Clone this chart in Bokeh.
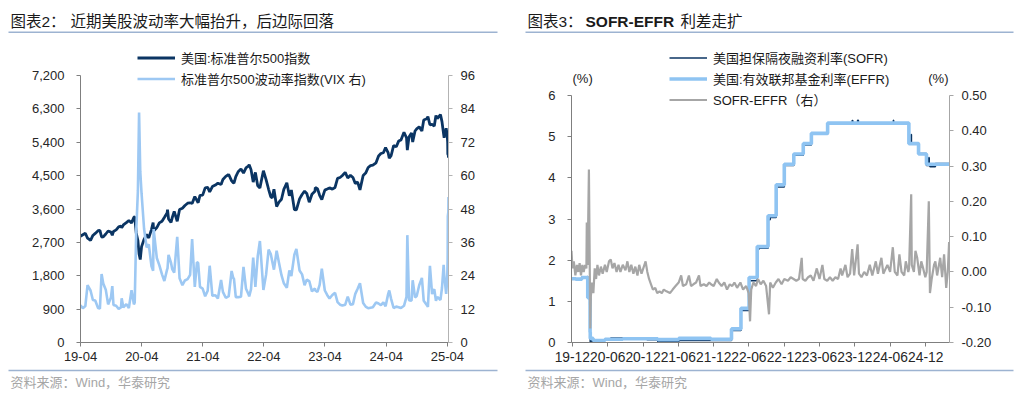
import pandas as pd
from bokeh.plotting import figure
from bokeh.models import (Range1d, LinearAxis, FixedTicker, NumeralTickFormatter,
                          DatetimeTickFormatter, Label, BoxAnnotation, Legend, LegendItem,
                          ColumnDataSource)
from bokeh.layouts import row, column
from bokeh.embed import file_html
from bokeh.resources import INLINE

FONT = "'Liberation Sans', 'Noto Sans CJK SC', sans-serif"

# ---------------- Chart 2 data: S&P 500 and VIX ----------------
spx_dates = [
    "2019-04-01", "2019-04-15", "2019-04-30", "2019-05-13", "2019-05-31", "2019-06-14", "2019-06-28", "2019-07-15",
    "2019-07-26", "2019-08-05", "2019-08-15", "2019-08-30", "2019-09-13", "2019-09-30", "2019-10-08", "2019-10-15",
    "2019-10-31", "2019-11-15", "2019-11-29", "2019-12-03", "2019-12-13", "2019-12-31",
    "2020-01-15", "2020-01-31", "2020-02-14", "2020-02-19", "2020-02-28", "2020-03-09", "2020-03-16", "2020-03-23",
    "2020-03-31", "2020-04-15", "2020-04-30", "2020-05-13", "2020-05-29", "2020-06-08", "2020-06-11", "2020-06-30",
    "2020-07-15", "2020-07-31", "2020-08-14", "2020-08-31", "2020-09-02", "2020-09-08", "2020-09-23", "2020-09-30",
    "2020-10-12", "2020-10-30", "2020-11-13", "2020-11-30", "2020-12-15", "2020-12-31",
    "2021-01-15", "2021-01-27", "2021-02-12", "2021-02-25", "2021-03-04", "2021-03-15", "2021-03-31", "2021-04-15",
    "2021-04-30", "2021-05-12", "2021-05-28", "2021-06-15", "2021-06-30", "2021-07-19", "2021-07-30", "2021-08-16",
    "2021-08-31", "2021-09-02", "2021-09-20", "2021-09-30", "2021-10-04", "2021-10-15", "2021-10-29", "2021-11-15",
    "2021-11-30", "2021-12-15", "2021-12-31",
    "2022-01-03", "2022-01-14", "2022-01-27", "2022-02-09", "2022-02-23", "2022-03-08", "2022-03-29", "2022-04-14",
    "2022-04-29", "2022-05-12", "2022-05-20", "2022-05-31", "2022-06-16", "2022-06-30", "2022-07-15", "2022-07-29",
    "2022-08-16", "2022-08-31", "2022-09-12", "2022-09-30", "2022-10-12", "2022-10-31", "2022-11-15", "2022-11-30",
    "2022-12-13", "2022-12-28",
    "2023-01-13", "2023-01-31", "2023-02-02", "2023-02-15", "2023-02-28", "2023-03-13", "2023-03-31", "2023-04-14",
    "2023-04-28", "2023-05-15", "2023-05-31", "2023-06-15", "2023-06-30", "2023-07-14", "2023-07-31", "2023-08-15",
    "2023-08-31", "2023-09-15", "2023-09-29", "2023-10-13", "2023-10-27", "2023-11-15", "2023-11-30", "2023-12-15",
    "2023-12-29",
    "2024-01-12", "2024-01-31", "2024-02-15", "2024-02-29", "2024-03-15", "2024-03-28", "2024-04-12", "2024-04-19",
    "2024-04-30", "2024-05-15", "2024-05-31", "2024-06-14", "2024-06-28", "2024-07-16", "2024-07-31", "2024-08-05",
    "2024-08-15", "2024-08-30", "2024-09-06", "2024-09-20", "2024-09-30", "2024-10-15", "2024-10-31", "2024-11-11",
    "2024-11-29", "2024-12-06", "2024-12-18", "2024-12-31",
    "2025-01-13", "2025-01-23", "2025-01-31", "2025-02-19", "2025-02-28", "2025-03-10", "2025-03-13", "2025-03-25",
    "2025-03-31", "2025-04-03", "2025-04-04", "2025-04-07", "2025-04-08",
]
spx_values = [
    2867, 2905, 2945, 2812, 2752, 2887, 2942, 3014, 3025, 2845, 2848, 2926, 3007, 2977, 2893, 2995, 3037, 3120, 3141, 3093, 3169, 3231,
    3289, 3226, 3380, 3386, 2954, 2747, 2386, 2237, 2585, 2783, 2912, 2820, 3044, 3232, 3002, 3100, 3227, 3271, 3373, 3500, 3580, 3332,
    3237, 3363, 3535, 3270, 3585, 3622, 3695, 3756,
    3768, 3751, 3934, 3829, 3768, 3968, 3973, 4170, 4181, 4063, 4204, 4246, 4297, 4258, 4395, 4479, 4523, 4537, 4358, 4308, 4300, 4471,
    4605, 4682, 4567, 4709, 4766,
    4796, 4662, 4326, 4587, 4225, 4170, 4631, 4392, 4132, 3930, 3901, 4132, 3667, 3785, 3863, 4130, 4305, 3955, 4110, 3586, 3577, 3872,
    3991, 4080, 4019, 3783,
    3999, 4077, 4179, 4148, 3970, 3855, 4109, 4138, 4169, 4136, 4180, 4426, 4450, 4505, 4589, 4437, 4508, 4450, 4288, 4327, 4117, 4502,
    4568, 4719, 4770,
    4784, 4846, 5030, 5096, 5117, 5254, 5123, 4967, 5036, 5308, 5278, 5431, 5460, 5667, 5522, 5186, 5543, 5648, 5408, 5703, 5762, 5815,
    5705, 6001, 6032, 6090, 5872, 5882,
    5836, 6119, 6041, 6144, 5955, 5615, 5522, 5777, 5612, 5396, 5074, 5062, 4983,
]
vix_values = [
    13.4, 12.3, 13.1, 20.6, 18.7, 15.3, 15.1, 12.4, 12.2, 24.6, 21.2, 19.0, 13.7, 16.2, 20.3, 13.5, 13.2, 12.1, 12.6, 15.9, 12.6, 13.8,
    12.4, 18.8, 13.7, 14.4, 40.1, 54.5, 82.7, 61.6, 53.5, 40.8, 34.2, 35.3, 27.5, 25.8, 40.8, 30.4, 27.8, 24.5, 22.1, 26.4, 26.6, 31.5,
    28.6, 26.4, 25.1, 38.0, 23.1, 20.6, 22.3, 22.8,
    24.3, 37.2, 20.0, 28.9, 28.6, 20.0, 19.4, 16.6, 18.6, 27.6, 16.8, 17.0, 15.8, 22.5, 18.2, 16.1, 16.5, 16.4, 25.7, 23.1, 23.0, 16.3,
    16.3, 16.5, 27.2, 19.3, 17.2,
    16.6, 19.2, 30.5, 20.0, 31.0, 36.5, 18.9, 24.4, 33.4, 31.8, 29.4, 26.2, 33.0, 28.7, 24.2, 21.3, 19.7, 25.9, 23.9, 31.6, 33.6, 25.9,
    24.5, 20.6, 22.6, 22.1,
    18.4, 19.4, 18.7, 18.2, 20.7, 26.5, 18.7, 17.1, 15.8, 17.1, 17.9, 14.5, 13.6, 13.3, 13.6, 16.5, 13.6, 13.8, 17.5, 19.3, 21.3, 14.2,
    12.9, 12.3, 12.5,
    12.7, 14.4, 14.0, 13.4, 14.4, 13.0, 17.3, 18.7, 15.7, 12.4, 12.9, 12.7, 12.4, 13.2, 16.4, 38.6, 15.2, 15.0, 22.4, 16.2, 16.7, 20.6,
    23.2, 15.0, 13.5, 12.8, 27.6, 17.4,
    19.2, 15.0, 16.4, 15.3, 19.6, 27.9, 24.7, 17.5, 22.3, 30.0, 45.3, 47.0, 52.3,
]
left_x_ticks = ["2019-04-01", "2020-04-01", "2021-04-01", "2022-04-01", "2023-04-01", "2024-04-01", "2025-04-01"]
left_y_ticks = [0, 900, 1800, 2700, 3600, 4500, 5400, 6300, 7200]
vix_ticks = [0, 12, 24, 36, 48, 60, 72, 84, 96]

# ---------------- Chart 3 data: SOFR, EFFR, spread ----------------
effr_dates = ["2019-12-11", "2020-01-02", "2020-02-03", "2020-03-04", "2020-03-16", "2020-03-17", "2020-04-01",
              "2020-06-01", "2020-09-01", "2021-01-04", "2021-03-01", "2021-06-17", "2021-12-01", "2022-03-17",
              "2022-05-05", "2022-06-16", "2022-07-28", "2022-09-22", "2022-11-03", "2022-12-15", "2023-02-02",
              "2023-03-23", "2023-05-04", "2023-07-27", "2024-09-19", "2024-11-08", "2024-12-19", "2025-04-17"]
effr_values = [1.55, 1.54, 1.58, 1.09, 0.25, 0.10, 0.05,
               0.08, 0.09, 0.09, 0.07, 0.10, 0.08, 0.33,
               0.83, 1.58, 2.33, 3.08, 3.83, 4.33, 4.58,
               4.83, 5.08, 5.33, 4.83, 4.58, 4.33, 4.33]
sofr_dates = ["2019-12-11", "2020-01-02", "2020-02-03", "2020-03-02", "2020-03-04", "2020-03-12", "2020-03-16",
              "2020-03-17", "2020-03-20", "2020-04-01", "2020-05-01", "2020-06-01", "2020-07-01", "2020-09-01",
              "2021-01-04", "2021-03-01", "2021-06-17", "2021-12-01", "2022-03-17", "2022-05-05", "2022-06-16",
              "2022-07-28", "2022-08-10", "2022-09-22", "2022-10-03", "2022-11-03", "2022-12-15", "2023-02-02",
              "2023-03-23", "2023-05-04", "2023-07-27", "2023-12-01", "2023-12-04", "2023-12-29", "2024-01-02",
              "2024-07-01", "2024-07-02", "2024-09-19", "2024-10-01", "2024-10-02", "2024-11-08", "2024-12-19",
              "2024-12-31", "2025-01-02", "2025-01-06", "2025-02-03", "2025-04-17"]
sofr_values = [1.55, 1.53, 1.59, 1.60, 1.10, 1.05, 0.26,
               0.01, 0.04, 0.01, 0.05, 0.08, 0.11, 0.09,
               0.07, 0.02, 0.05, 0.05, 0.29, 0.78, 1.50,
               2.28, 2.29, 2.98, 3.04, 3.78, 4.30, 4.55,
               4.80, 5.06, 5.30, 5.39, 5.32, 5.40, 5.31,
               5.40, 5.33, 4.84, 5.05, 4.85, 4.59, 4.30,
               4.49, 4.30, 4.27, 4.35, 4.33]
spread_dates = [
    "2019-12-11", "2019-12-16", "2019-12-23", "2019-12-31", "2020-01-08", "2020-01-15", "2020-01-22", "2020-01-29",
    "2020-02-05", "2020-02-12", "2020-02-19", "2020-02-26", "2020-02-28", "2020-03-03", "2020-03-06", "2020-03-10",
    "2020-03-13", "2020-03-17", "2020-03-20", "2020-03-26", "2020-04-02", "2020-04-09", "2020-04-16", "2020-04-23",
    "2020-05-01", "2020-05-11", "2020-05-20", "2020-06-01", "2020-06-10", "2020-06-22", "2020-07-01", "2020-07-10",
    "2020-07-20", "2020-07-31", "2020-08-10", "2020-08-20", "2020-09-01", "2020-09-15", "2020-09-25", "2020-10-05",
    "2020-10-15", "2020-10-26", "2020-11-05", "2020-11-16", "2020-11-25", "2020-12-07", "2020-12-16", "2020-12-28",
    "2021-01-06", "2021-01-15", "2021-01-25", "2021-02-04", "2021-02-16", "2021-02-26", "2021-03-10", "2021-03-22",
    "2021-04-01", "2021-04-15", "2021-05-03", "2021-05-17", "2021-06-01", "2021-06-17", "2021-06-30", "2021-07-09",
    "2021-07-26", "2021-08-09", "2021-08-20", "2021-09-01", "2021-09-15", "2021-09-30", "2021-10-08", "2021-10-25",
    "2021-11-08", "2021-11-22", "2021-12-01", "2021-12-15", "2021-12-31", "2022-01-10", "2022-01-25", "2022-02-08",
    "2022-02-22", "2022-03-08", "2022-03-21", "2022-04-01", "2022-04-15", "2022-05-02", "2022-05-16", "2022-06-01",
    "2022-06-14", "2022-06-21", "2022-06-27", "2022-07-08", "2022-07-22", "2022-08-01", "2022-08-15", "2022-08-29",
    "2022-09-12", "2022-09-27", "2022-10-03", "2022-10-17", "2022-11-01", "2022-11-15", "2022-12-01", "2022-12-15",
    "2023-01-03", "2023-01-17", "2023-02-01", "2023-02-15", "2023-03-01", "2023-03-15", "2023-03-20", "2023-04-03",
    "2023-04-17", "2023-05-01", "2023-05-15", "2023-06-01", "2023-06-15", "2023-06-30", "2023-07-10", "2023-07-25",
    "2023-08-08", "2023-08-22", "2023-09-05", "2023-09-19", "2023-10-02", "2023-10-10", "2023-10-27", "2023-11-07",
    "2023-11-20", "2023-12-01", "2023-12-11", "2023-12-29", "2024-01-05", "2024-01-18", "2024-02-01", "2024-02-15",
    "2024-03-01", "2024-03-14", "2024-04-01", "2024-04-12", "2024-04-30", "2024-05-10", "2024-05-31", "2024-06-14",
    "2024-06-28", "2024-07-08", "2024-07-22", "2024-08-01", "2024-08-12", "2024-08-26", "2024-09-03", "2024-09-16",
    "2024-09-20", "2024-10-01", "2024-10-04", "2024-10-15", "2024-10-23", "2024-11-01", "2024-11-13", "2024-11-22",
    "2024-12-02", "2024-12-13", "2024-12-20", "2024-12-31", "2025-01-06", "2025-01-15", "2025-01-27", "2025-02-03",
    "2025-02-12", "2025-02-28", "2025-03-10", "2025-03-20", "2025-03-31", "2025-04-08", "2025-04-15",
]
spread_values = [
    0.06, 0.01, 0.03, -0.01, 0.02, 0.00, 0.025, -0.01,
    0.02, 0.00, 0.02, 0.01, 0.14, 0.02, 0.13, 0.29,
    0.10, -0.16, -0.07, -0.03, -0.06, 0.01, -0.02, 0.02,
    -0.01, 0.015, -0.005, 0.02, 0.00, 0.03, 0.035, 0.01,
    0.025, 0.00, 0.02, 0.00, 0.02, 0.005, 0.03, 0.00,
    0.02, -0.005, 0.015, -0.01, 0.02, -0.005, 0.01, 0.03,
    0.00, -0.02, -0.035, -0.05, -0.045, -0.06, -0.055, -0.06,
    -0.05, -0.055, -0.06, -0.05, -0.04, -0.03, -0.01, -0.04,
    -0.035, -0.01, -0.04, -0.035, -0.03, -0.01, -0.04, -0.035,
    -0.04, -0.03, -0.035, -0.04, -0.02, -0.03, -0.04, -0.03,
    -0.05, -0.035, -0.04, -0.03, -0.045, -0.03, -0.05, -0.04,
    -0.06, -0.14, -0.05, -0.03, -0.04, -0.02, -0.035, -0.025,
    -0.04, -0.12, -0.03, -0.045, -0.03, -0.02, -0.035, -0.02,
    -0.025, -0.015, -0.02, -0.025, -0.02, 0.04, -0.02, -0.025,
    -0.015, -0.01, -0.025, 0.01, -0.02, 0.02, -0.02, -0.025,
    -0.015, -0.025, -0.015, -0.02, 0.01, -0.01, 0.02, -0.015,
    -0.005, 0.065, -0.01, 0.078, -0.005, -0.015, 0.00, -0.01,
    0.02, -0.01, 0.03, -0.005, 0.04, -0.005, 0.02, 0.00,
    0.07, 0.00, -0.01, 0.05, 0.00, -0.01, 0.03, 0.00,
    0.01, 0.22, 0.02, 0.00, 0.06, 0.04, -0.01, 0.03,
    0.01, -0.015, 0.00, 0.20, -0.06, -0.02, 0.02, 0.03,
    -0.01, 0.04, -0.015, 0.05, -0.045, 0.00, 0.085,
]
right_x_ticks = ["2019-12-15", "2020-06-15", "2020-12-15", "2021-06-15", "2021-12-15", "2022-06-15",
                 "2022-12-15", "2023-06-15", "2023-12-15", "2024-06-15", "2024-12-15"]
rate_ticks = [0, 1, 2, 3, 4, 5, 6]
spread_ticks = [-0.2, -0.1, 0.0, 0.1, 0.2, 0.3, 0.4, 0.5]

# ---------------- layout constants (pixels) ----------------
W, H = 1024, 397
HEAD_H = 40          # header strip (titles + rule)
FOOT_H = 30          # footer strip (rule + source)
MAIN_H = H - HEAD_H - FOOT_H
FRAME_BOTTOM = 342   # page y of both x axes
FRAME_H = FRAME_BOTTOM - HEAD_H
L_AXIS_TOP = 75      # page y of 7,200 / 96
R_AXIS_TOP = 95      # page y of 6 / 0.50
ext_l = FRAME_H / (FRAME_BOTTOM - L_AXIS_TOP)
ext_r = FRAME_H / (FRAME_BOTTOM - R_AXIS_TOP)


def ms(d):
    return pd.Timestamp(d).timestamp() * 1000.0


def style_axis(ax, color="#7f7f7f", standoff=8, size="13px"):
    ax.axis_line_color = color
    ax.axis_line_width = 1
    ax.major_tick_line_color = color
    ax.minor_tick_line_color = None
    ax.major_tick_out = 4
    ax.major_tick_in = 0
    ax.major_label_text_font = FONT
    ax.major_label_text_font_size = size
    ax.major_label_text_color = "#262626"
    ax.major_label_standoff = standoff


def dt_fmt():
    f = "%y-%m"
    return DatetimeTickFormatter(microseconds=f, milliseconds=f, seconds=f, minsec=f, minutes=f,
                                 hourmin=f, hours=f, days=f, months=f, years=f)


def label(p, text, x, y, size="13px", color="#1a1a1a", bold=False, align="left", units="data"):
    p.add_layout(Label(x=x, y=y, x_units=units, y_units=units, text=text,
                       text_font=FONT, text_font_size=size, text_color=color,
                       text_baseline="middle", text_align=align,
                       text_font_style="bold" if bold else "normal"))


def rule(p, x0, x1, y):
    p.add_layout(BoxAnnotation(left=x0, right=x1, bottom=y - 0.8, top=y + 0.8,
                               fill_color="#9db3d1", fill_alpha=1, line_color=None))


def strip(height):
    s = figure(width=W, height=height, x_range=Range1d(0, W), y_range=Range1d(0, height),
               x_axis_location=None, y_axis_location=None, output_backend="svg",
               toolbar_location=None, min_border=0)
    s.grid.visible = False
    s.outline_line_color = None
    s.background_fill_color = "white"
    s.border_fill_color = "white"
    return s


def base_fig(x0, x1, y0, y1, bl, br):
    p = figure(width=W // 2, height=MAIN_H, x_axis_type="datetime", output_backend="svg",
               toolbar_location=None,
               x_range=Range1d(pd.Timestamp(x0), pd.Timestamp(x1)),
               y_range=Range1d(y0, y1),
               min_border_left=bl, min_border_right=br, min_border_top=0,
               min_border_bottom=MAIN_H - FRAME_H)
    p.xgrid.visible = False
    p.ygrid.visible = False
    p.outline_line_color = None
    p.background_fill_color = "white"
    p.border_fill_color = "white"
    return p


def style_legend(lg):
    lg.label_text_font = FONT
    lg.label_text_font_size = "13px"
    lg.label_text_color = "#1a1a1a"
    lg.glyph_width = 38
    lg.glyph_height = 21
    lg.label_height = 21
    lg.label_standoff = 6
    lg.spacing = 0
    lg.padding = 0
    lg.margin = 0
    lg.border_line_color = None
    lg.background_fill_alpha = 0


# ---------------- header ----------------
head = strip(HEAD_H)
hy = lambda page_y: HEAD_H - page_y
label(head, "图表2：", 10, hy(21), size="15.5px")
label(head, "近期美股波动率大幅抬升，后边际回落", 70, hy(21), size="15.5px")
label(head, "图表3：", 527, hy(21), size="15.5px")
label(head, "SOFR-EFFR", 585, hy(21), size="15.5px", bold=True)
label(head, "利差走扩", 680, hy(21), size="15.5px")
rule(head, 8, 497, hy(31.7))
rule(head, 525, 1013, hy(31.7))

# ---------------- footer ----------------
foot = strip(FOOT_H)
fy = lambda page_y: H - page_y
rule(foot, 8, 497, fy(370))
rule(foot, 525, 1013, fy(370))
label(foot, "资料来源：Wind，华泰研究", 10, fy(382), color="#a6a6a6")
label(foot, "资料来源：Wind，华泰研究", 527, fy(382), color="#a6a6a6")

# ---------------- Chart 2 ----------------
L_LEFT, L_RIGHT = 80, 448
p1 = base_fig("2019-04-01", "2025-04-08", 0, 7200 * ext_l, L_LEFT, W // 2 - L_RIGHT)
p1.extra_y_ranges = {"vix": Range1d(0, 96 * ext_l)}
src1 = ColumnDataSource(dict(x=pd.to_datetime(spx_dates), spx=spx_values, vix=vix_values))
r_spx = p1.line("x", "spx", source=src1, line_color="#0b3563", line_width=2.8)
r_vix = p1.line("x", "vix", source=src1, line_color="#9dc8f3", line_width=2.6, y_range_name="vix")

p1.xaxis[0].ticker = FixedTicker(ticks=[ms(d) for d in left_x_ticks])
p1.xaxis[0].formatter = dt_fmt()
style_axis(p1.xaxis[0], standoff=5)
p1.yaxis[0].ticker = FixedTicker(ticks=left_y_ticks)
p1.yaxis[0].formatter = NumeralTickFormatter(format="0,0")
p1.yaxis[0].bounds = (0, 7200)
style_axis(p1.yaxis[0], standoff=12)
ax_vix = LinearAxis(y_range_name="vix", ticker=FixedTicker(ticks=vix_ticks), bounds=(0, 96))
style_axis(ax_vix, color="#b3b3b3", standoff=8)
p1.add_layout(ax_vix, "right")

leg1 = Legend(items=[LegendItem(label="美国:标准普尔500指数", renderers=[r_spx]),
                     LegendItem(label="标准普尔500波动率指数(VIX 右)", renderers=[r_vix])],
              location=(137 - L_LEFT, FRAME_BOTTOM - 88.5))
style_legend(leg1)
p1.add_layout(leg1)

# ---------------- Chart 3 ----------------
R_LEFT, R_RIGHT = 571, 949
p2 = base_fig("2019-12-11", "2025-04-17", 0, 6 * ext_r, R_LEFT - W // 2, W - R_RIGHT)
p2.extra_y_ranges = {"spread": Range1d(-0.2, -0.2 + 0.7 * ext_r)}
src_sofr = ColumnDataSource(dict(x=pd.to_datetime(sofr_dates), y=sofr_values))
src_effr = ColumnDataSource(dict(x=pd.to_datetime(effr_dates), y=effr_values))
src_spr = ColumnDataSource(dict(x=pd.to_datetime(spread_dates), y=spread_values))
r_sofr = p2.step("x", "y", source=src_sofr, mode="after", line_color="#0b3563", line_width=1.6)
r_effr = p2.step("x", "y", source=src_effr, mode="after", line_color="#8fc4f2", line_width=3.6)
r_spr = p2.line("x", "y", source=src_spr, line_color="#a6a6a6", line_width=2.2, y_range_name="spread")

p2.xaxis[0].ticker = FixedTicker(ticks=[ms(d) for d in right_x_ticks])
p2.xaxis[0].formatter = dt_fmt()
style_axis(p2.xaxis[0], standoff=5, size="13.8px")
p2.yaxis[0].ticker = FixedTicker(ticks=rate_ticks)
p2.yaxis[0].formatter = NumeralTickFormatter(format="0")
p2.yaxis[0].bounds = (0, 6)
style_axis(p2.yaxis[0], standoff=12)
ax_spr = LinearAxis(y_range_name="spread", ticker=FixedTicker(ticks=spread_ticks),
                    formatter=NumeralTickFormatter(format="0.00"), bounds=(-0.2, 0.5))
style_axis(ax_spr, color="#a6a6a6", standoff=8)
p2.add_layout(ax_spr, "right")

leg2 = Legend(items=[LegendItem(label="美国担保隔夜融资利率(SOFR)", renderers=[r_sofr]),
                     LegendItem(label="美国:有效联邦基金利率(EFFR)", renderers=[r_effr]),
                     LegendItem(label="SOFR-EFFR（右）", renderers=[r_spr])],
              location=(669 - R_LEFT, FRAME_BOTTOM - 109.5))
style_legend(leg2)
p2.add_layout(leg2)

# unit labels kept just inside the plot frame (annotations are clipped to it)
frame_w_r = R_RIGHT - R_LEFT
label(p2, "(%)", 1, FRAME_BOTTOM - 78, align="left", units="screen")
label(p2, "(%)", frame_w_r - 1, FRAME_BOTTOM - 78, align="right", units="screen")

layout = column(head, row(p1, p2), foot)
open("out.html", "w").write(file_html(layout, INLINE))
